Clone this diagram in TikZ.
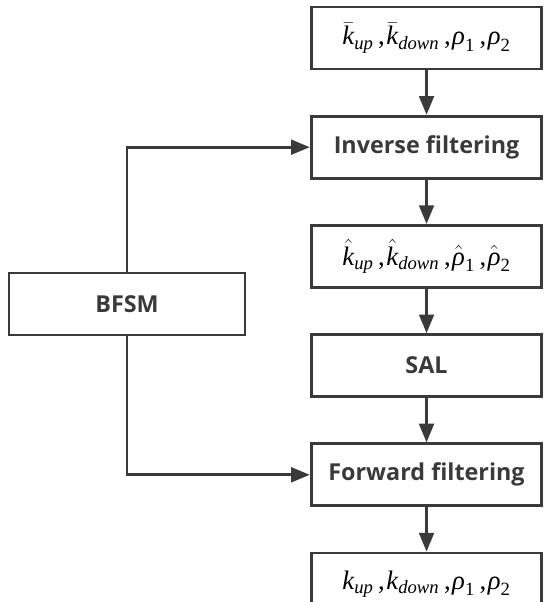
\documentclass[tikz,border=0pt]{standalone}
\usepackage{amsmath}
\usepackage{fontspec}
\setsansfont{Open Sans}
\newfontfamily\timesfont{Liberation Serif}
\newcommand{\tmi}[1]{\text{\timesfont\itshape #1}}
\newcommand{\tmu}[1]{\text{\timesfont\upshape #1}}
\newcommand{\tcomma}{\mkern3mu\tmu{,}\mkern1mu}
\usepackage{xcolor}
\usetikzlibrary{arrows.meta, positioning}
\definecolor{linegray}{HTML}{3A3A3A}

\begin{document}
\begin{tikzpicture}[
  block/.style={draw=linegray, line width=2.1pt, minimum width=173pt, minimum height=46.5pt, inner sep=0pt, text=linegray, font=\sffamily\bfseries\fontsize{17.5}{21}\selectfont},
  mathblock/.style={block, text=black, font=\fontsize{20}{24}\selectfont},
  arrow/.style={-{Triangle[length=14pt, width=11pt]}, line width=2.1pt, draw=linegray},
  node distance=33.3pt
]
  \useasboundingbox (0,0) rectangle (408pt,-451.5pt);

  \node[mathblock] (kbar) at (319.9pt,-28.5pt) {$\bar{\tmi{k}}_{\tmi{up}}\tcomma\bar{\tmi{k}}_{\tmi{down}}\tcomma\tmi{ρ}_{\tmu{1}}\tcomma\tmi{ρ}_{\tmu{2}}$};
  \node[block, below=of kbar] (inv) {Inverse filtering};
  \node[mathblock, below=of inv] (khat) {$\hat{\tmi{k}}_{\tmi{up}}\tcomma\hat{\tmi{k}}_{\tmi{down}}\tcomma\hat{\tmi{ρ}}_{\tmu{1}}\tcomma\hat{\tmi{ρ}}_{\tmu{2}}$};
  \node[block, below=of khat] (sal) {SAL};
  \node[block, below=of sal] (fwd) {Forward filtering};
  \node[mathblock, below=of fwd] (kout) {$\tmi{k}_{\tmi{up}}\tcomma\tmi{k}_{\tmi{down}}\tcomma\tmi{ρ}_{\tmu{1}}\tcomma\tmi{ρ}_{\tmu{2}}$};
  \node[block, minimum width=177pt] (bfsm) at (95.25pt,-228pt) {BFSM};

  \draw[arrow] (kbar) -- (inv);
  \draw[arrow] (inv) -- (khat);
  \draw[arrow] (khat) -- (sal);
  \draw[arrow] (sal) -- (fwd);
  \draw[arrow] (fwd) -- (kout);
  \draw[arrow] (bfsm.north) |- (inv.west);
  \draw[arrow] (bfsm.south) |- (fwd.west);
\end{tikzpicture}
\end{document}
